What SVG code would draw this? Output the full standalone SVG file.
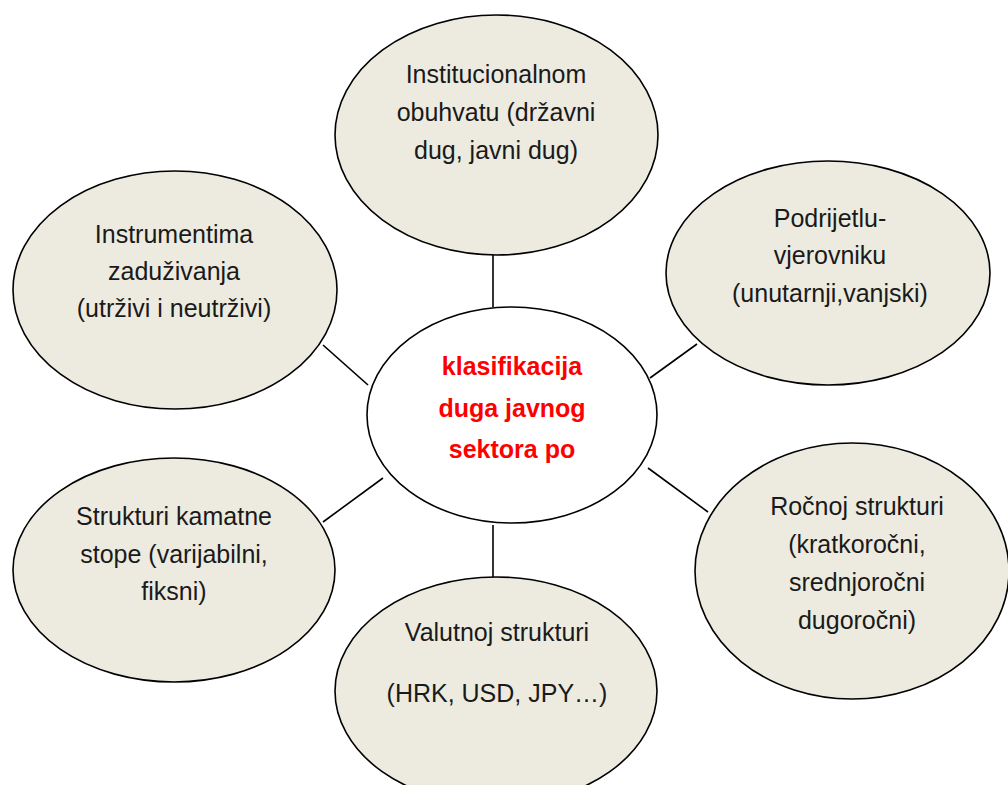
<svg xmlns="http://www.w3.org/2000/svg" width="1008" height="785" viewBox="0 0 1008 785">
<style>
.node{fill:#EDEBE0;stroke:#000;stroke-width:1.6}
.center{fill:#fff;stroke:#000;stroke-width:1.6}
.lbl{font-family:"Liberation Sans",Arial,sans-serif;font-size:25px;fill:#1a1a1a;text-anchor:middle}
.ctr{font-family:"Liberation Sans",Arial,sans-serif;font-size:25px;font-weight:bold;fill:#FF0000;text-anchor:middle}
.conn line{stroke:#000;stroke-width:1.6}
</style>
<rect width="1008" height="785" fill="#fff"/>
<g id="connectors" class="conn">
<line x1="493" y1="255" x2="493" y2="307"/>
<line x1="323" y1="345" x2="368" y2="385"/>
<line x1="697" y1="344" x2="650" y2="378"/>
<line x1="383" y1="478" x2="323" y2="522"/>
<line x1="648" y1="468" x2="708" y2="512"/>
<line x1="493" y1="525" x2="493" y2="577"/>
</g>
<g id="node-institucionalnom">
<ellipse class="node" cx="496.5" cy="135" rx="161.5" ry="120"/>
<text class="lbl" x="496" y="83">Institucionalnom</text>
<text class="lbl" x="496" y="121">obuhvatu (državni</text>
<text class="lbl" x="496" y="159">dug, javni dug)</text>
</g>
<g id="node-instrumentima">
<ellipse class="node" cx="175" cy="290" rx="162" ry="119"/>
<text class="lbl" x="174" y="243">Instrumentima</text>
<text class="lbl" x="174" y="280">zaduživanja</text>
<text class="lbl" x="174" y="317">(utrživi i neutrživi)</text>
</g>
<g id="node-podrijetlu">
<ellipse class="node" cx="828" cy="273" rx="162" ry="112"/>
<text class="lbl" x="830" y="227">Podrijetlu-</text>
<text class="lbl" x="830" y="264">vjerovniku</text>
<text class="lbl" x="830" y="302">(unutarnji,vanjski)</text>
</g>
<g id="node-center">
<ellipse class="center" cx="512" cy="415" rx="145" ry="108"/>
<text class="ctr" x="512" y="375">klasifikacija</text>
<text class="ctr" x="512" y="417">duga javnog</text>
<text class="ctr" x="512" y="458">sektora po</text>
</g>
<g id="node-kamatne">
<ellipse class="node" cx="174" cy="570" rx="161" ry="112"/>
<text class="lbl" x="174" y="525">Strukturi kamatne</text>
<text class="lbl" x="174" y="563">stope (varijabilni,</text>
<text class="lbl" x="174" y="600">fiksni)</text>
</g>
<g id="node-rocnoj">
<ellipse class="node" cx="852" cy="571" rx="157" ry="128"/>
<text class="lbl" x="857" y="515">Ročnoj strukturi</text>
<text class="lbl" x="857" y="553">(kratkoročni,</text>
<text class="lbl" x="857" y="591">srednjoročni</text>
<text class="lbl" x="857" y="629">dugoročni)</text>
</g>
<g id="node-valutnoj">
<ellipse class="node" cx="496" cy="691" rx="161" ry="114"/>
<text class="lbl" x="497" y="641">Valutnoj strukturi</text>
<text class="lbl" x="497" y="702">(HRK, USD, JPY…)</text>
</g>
</svg>
